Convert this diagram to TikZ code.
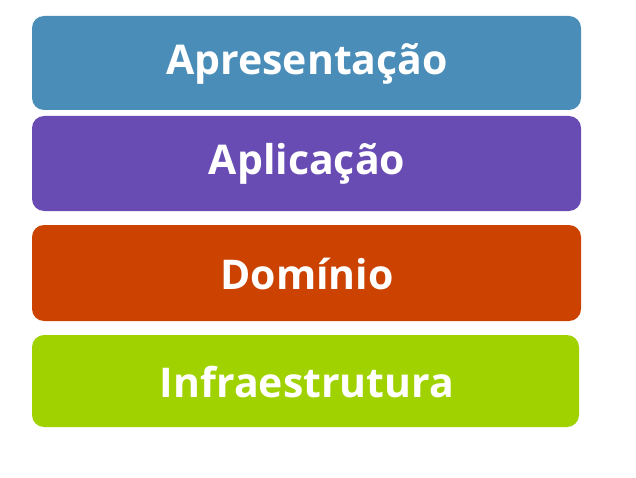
\documentclass[tikz,border=0pt]{standalone}
\usepackage{fontspec}
\setmainfont{Open Sans}
\definecolor{cblue}{HTML}{4A8DB8}
\definecolor{cpurple}{HTML}{684CB4}
\definecolor{corange}{HTML}{CC4200}
\definecolor{cgreen}{HTML}{A0D200}
\begin{document}
\begin{tikzpicture}[x=1pt,y=-1pt,
  layer/.style={rounded corners=12pt},
  lbl/.style={text=white,font=\fontsize{41}{48}\selectfont\bfseries,anchor=center,inner sep=0pt}]
\useasboundingbox[fill=white] (0,0) rectangle (636,478);
\fill[cblue,layer] (32,16) rectangle (581,110);
\fill[cpurple,layer] (32,116) rectangle (581,211);
\fill[corange,layer] (32,225) rectangle (581,321);
\fill[cgreen,layer] (32,335) rectangle (579,427);
\node[lbl] (a) at (307,64) {Apresentação};
\node[lbl] (b) at (307,164) {Aplicação};
\node[lbl] (c) at (307,274) {Domínio};
\node[lbl] (d) at (307,382) {Infraestrutura};
\end{tikzpicture}
\end{document}
